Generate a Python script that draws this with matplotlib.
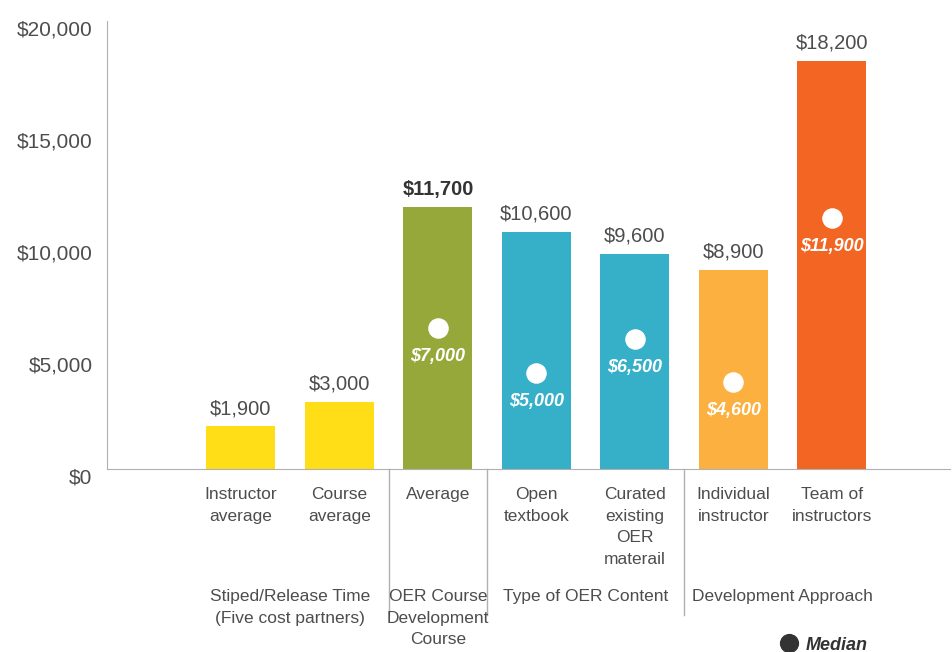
import matplotlib.pyplot as plt
from matplotlib.transforms import ScaledTranslation

plt.rcParams['font.family'] = ['Liberation Sans', 'DejaVu Sans']

# Datos
categories = ["Instructor\naverage", "Course\naverage", "Average", "Open\ntextbook",
              "Curated\nexisting\nOER\nmaterail", "Individual\ninstructor", "Team of\ninstructors"]
averages = [1900, 3000, 11700, 10600, 9600, 8900, 18200]
medians = [None, None, 7000, 5000, 6500, 4600, 11900]
groups = ["Stiped/Release Time\n(Five cost partners)", "OER Course\nDevelopment\nCourse",
          "Type of OER Content", "Development Approach"]
group_centers = [0.5, 2, 3.5, 5.5]
separators = [1.5, 2.5, 4.5]
y_ticks = [0, 5000, 10000, 15000, 20000]

colors = ["#FFDD17", "#FFDD17", "#97A83A", "#36AFC8", "#36AFC8", "#FBB040", "#F26522"]
text_gray = "#4d4d4d"

fig = plt.figure(figsize=(9.53, 6.52), dpi=100)
ax = fig.add_axes([107 / 953, 1 - 469 / 652, 843 / 953, 448 / 652])

x = list(range(len(categories)))
ax.bar(x, averages, width=0.7, color=colors, zorder=2)

ax.set_xlim(-1.36, 7.2)
ax.set_ylim(0, 20000)

# Ejes
for s in ["top", "right"]:
    ax.spines[s].set_visible(False)
ax.spines["left"].set_color("#b0b0b0")
ax.spines["bottom"].set_color("#b0b0b0")
ax.set_xticks([])
ax.set_yticks(y_ticks)
ax.set_yticklabels([f"${v:,}" for v in y_ticks], fontsize=15, color=text_gray)
ax.tick_params(axis="y", length=0, pad=10.5)
for lab in ax.get_yticklabels():
    lab.set_transform(lab.get_transform() + ScaledTranslation(0, -7 / 100, fig.dpi_scale_trans))

# Etiquetas de valor
for xi, v in zip(x, averages):
    bold = v == 11700
    ax.annotate(f"${v:,}", (xi, v), xytext=(0, 6), textcoords="offset points",
                ha="center", va="bottom", fontsize=14.5,
                fontweight="bold" if bold else "normal",
                color="#333333" if bold else text_gray)

# Medianas
dot_shift = ScaledTranslation(0, -16 / 100, fig.dpi_scale_trans)
for xi, m in zip(x, medians):
    if m is None:
        continue
    ax.scatter([xi], [m], s=190, color="white", zorder=3,
               transform=ax.transData + dot_shift)
    ax.annotate(f"${m:,}", (xi, m), xytext=(0, -32), textcoords="offset points",
                ha="center", va="center", fontsize=13, fontweight="bold",
                fontstyle="italic", color="white", zorder=4)

# Etiquetas de categorías
xt = ax.get_xaxis_transform()
for xi, c in zip(x, categories):
    ax.text(xi, -18 / 448, c, transform=xt, ha="center", va="top", fontsize=12.5,
            color=text_gray, linespacing=1.55)

for gc, g in zip(group_centers, groups):
    ax.text(gc, -120 / 448, g, transform=xt, ha="center", va="top", fontsize=12.5,
            color=text_gray, linespacing=1.55)

for sx in separators:
    ax.plot([sx, sx], [0, -146 / 448], transform=xt, color="#b0b0b0", lw=1, clip_on=False)

# Leyenda
ax.scatter([789 / 953], [1 - 643 / 652], s=165, color="#333333",
           transform=fig.transFigure, clip_on=False)
fig.text(806 / 953, 1 - 645 / 652, "Median", fontsize=13, fontweight="bold", fontstyle="italic",
         color="#333333", ha="left", va="center")

plt.savefig("out.png", dpi=100)
plt.close()
